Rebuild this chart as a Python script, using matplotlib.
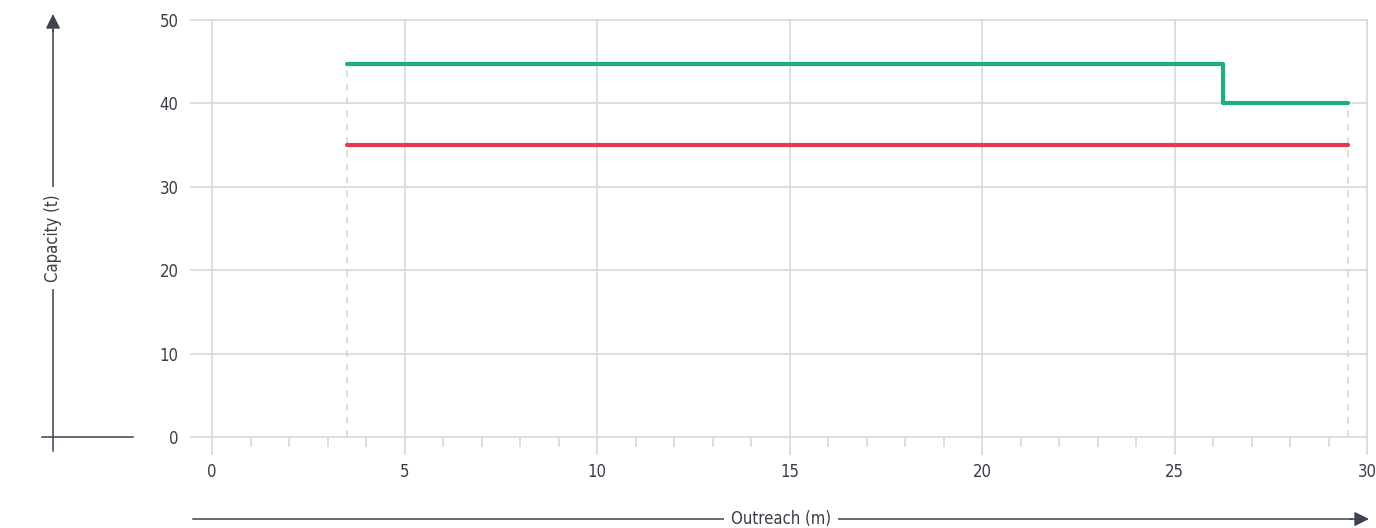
import matplotlib
matplotlib.use("Agg")
import matplotlib.pyplot as plt
from matplotlib.lines import Line2D
from matplotlib.ticker import MultipleLocator

# Data
green_x = [3.5, 26.25, 26.25, 29.5]
green_y = [44.7, 44.7, 40.0, 40.0]
red_x = [3.5, 29.5]
red_y = [35.0, 35.0]
x_ticks = [0, 5, 10, 15, 20, 25, 30]
y_ticks = [0, 10, 20, 30, 40, 50]
x_label = "Outreach (m)"
y_label = "Capacity (t)"

GRID = "#d4d8e0"
TXT = "#3a3d45"
AX = "#3d4350"
plt.rcParams['font.family'] = ['DejaVu Sans']
plt.rcParams['font.stretch'] = 'condensed'

W, H = 1376, 528
fig = plt.figure(figsize=(W / 100, H / 100), dpi=100)
ax = fig.add_axes([212 / W, 1 - 437 / H, (1367 - 212) / W, (437 - 20) / H])
ax.set_xlim(0, 30)
ax.set_ylim(0, 50)
for s in ax.spines.values():
    s.set_visible(False)
ax.set_xticks(x_ticks)
ax.set_yticks(y_ticks)
ax.xaxis.set_minor_locator(MultipleLocator(1))
ax.grid(True, which='major', color=GRID, lw=1.2)
ax.set_axisbelow(True)
for gl in ax.get_xgridlines() + ax.get_ygridlines():
    gl.set_clip_on(False)
ax.tick_params(axis='x', which='major', length=13, width=1.2, color=GRID,
               labelsize=12, labelcolor=TXT, pad=6)
ax.tick_params(axis='x', which='minor', length=7, width=1.2, color=GRID)
ax.tick_params(axis='y', which='major', length=16, width=1.2, color=GRID,
               labelsize=12, labelcolor=TXT, pad=8)

# dashed verticals
ax.plot([green_x[0], green_x[0]], [0, green_y[0]], color=GRID, lw=1.2,
        ls=(0, (4, 4)), zorder=1)
ax.plot([green_x[-1], green_x[-1]], [0, green_y[-1]], color=GRID, lw=1.2,
        ls=(0, (4, 4)), zorder=1)

ax.plot(green_x, green_y, color="#1daf7a", lw=3.0, solid_capstyle='round',
        solid_joinstyle='round', zorder=3, clip_on=False)
ax.plot(red_x, red_y, color="#ec3550", lw=3.0, solid_capstyle='round',
        zorder=3, clip_on=False)

def fx(px):
    return px / W

def fy(py):
    return 1 - py / H

# left vertical arrow
fig.add_artist(Line2D([fx(53), fx(53)], [fy(451), fy(30)], color=AX, lw=1.1))
ax.annotate("", xy=(fx(53), fy(14)), xytext=(fx(53), fy(32)),
            xycoords='figure fraction', textcoords='figure fraction',
            arrowprops=dict(arrowstyle='-|>', color=AX, lw=1.1,
                            mutation_scale=22, shrinkA=0, shrinkB=0))
fig.add_artist(Line2D([fx(42), fx(133)], [fy(437), fy(437)], color=AX, lw=1.1))
fig.text(fx(53), fy(238), y_label, rotation=90, ha='center', va='center',
         fontsize=12, color=TXT,
         bbox=dict(facecolor='white', edgecolor='none', pad=5))

# bottom horizontal arrow
fig.add_artist(Line2D([fx(193), fx(1352)], [fy(519), fy(519)], color=AX, lw=1.1))
ax.annotate("", xy=(fx(1369), fy(519)), xytext=(fx(1350), fy(519)),
            xycoords='figure fraction', textcoords='figure fraction',
            arrowprops=dict(arrowstyle='-|>', color=AX, lw=1.1,
                            mutation_scale=22, shrinkA=0, shrinkB=0))
fig.text(fx(781), fy(519), x_label, ha='center', va='center',
         fontsize=12, color=TXT,
         bbox=dict(facecolor='white', edgecolor='none', pad=5))

fig.savefig("out.png", dpi=100)
